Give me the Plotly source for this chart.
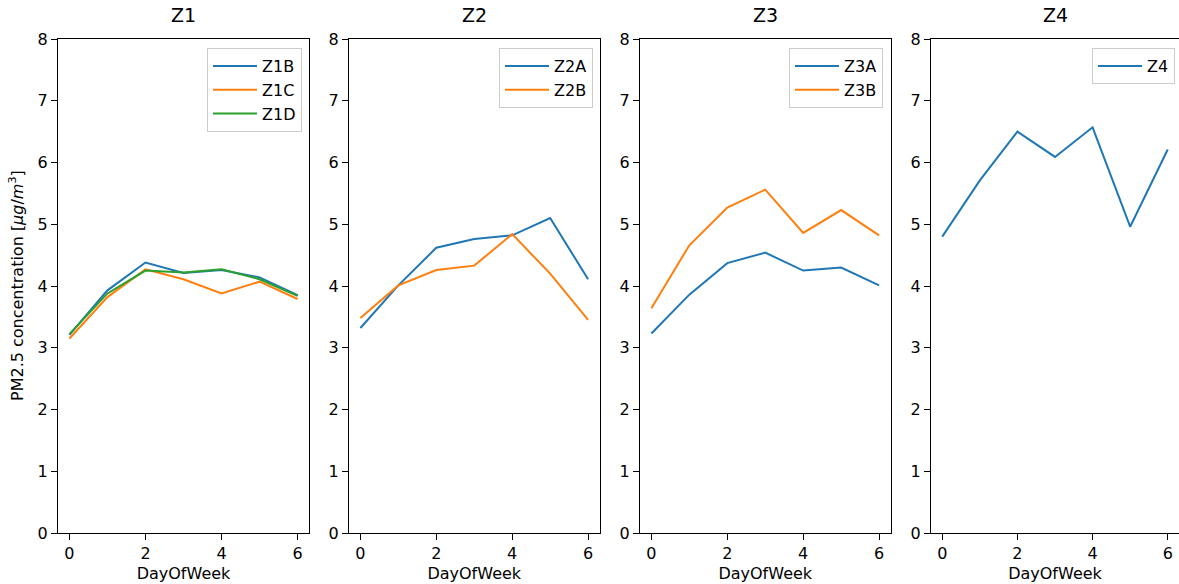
import plotly.graph_objects as go

days = [0, 1, 2, 3, 4, 5, 6]

Z1B = [3.21, 3.93, 4.38, 4.21, 4.26, 4.14, 3.85]
Z1C = [3.15, 3.82, 4.27, 4.11, 3.88, 4.07, 3.79]
Z1D = [3.22, 3.88, 4.25, 4.22, 4.27, 4.11, 3.84]

Z2A = [3.32, 4.01, 4.62, 4.76, 4.82, 5.10, 4.11]
Z2B = [3.48, 4.01, 4.26, 4.33, 4.84, 4.20, 3.45]

Z3A = [3.23, 3.86, 4.37, 4.54, 4.25, 4.30, 4.01]
Z3B = [3.64, 4.66, 5.27, 5.56, 4.86, 5.23, 4.82]

Z4 = [4.80, 5.71, 6.50, 6.09, 6.57, 4.96, 6.21]

panel_titles = ["Z1", "Z2", "Z3", "Z4"]
panels = [
    [("Z1B", Z1B), ("Z1C", Z1C), ("Z1D", Z1D)],
    [("Z2A", Z2A), ("Z2B", Z2B)],
    [("Z3A", Z3A), ("Z3B", Z3B)],
    [("Z4", Z4)],
]
x_ticks = [0, 2, 4, 6]
y_ticks = [0, 1, 2, 3, 4, 5, 6, 7, 8]

colors = ["#1f77b4", "#ff7f0e", "#2ca02c"]

W, H = 1179, 584
px_x = [(58, 309), (349, 599.5), (640, 890.5), (931, 1181)]
top_px, bot_px = 39, 533
ydom = [1 - bot_px / H, 1 - top_px / H]
legend_right = [302, 593, 883, 1175]

FONT = "DejaVu Sans"
fig = go.Figure()
layout = dict(
    width=W, height=H,
    margin=dict(l=0, r=0, t=0, b=0),
    paper_bgcolor="white", plot_bgcolor="white",
    font=dict(family=FONT, size=16, color="black"),
    showlegend=True,
    annotations=[],
)

for i, (series, title) in enumerate(zip(panels, panel_titles)):
    n = "" if i == 0 else str(i + 1)
    lg = "legend" if i == 0 else f"legend{i+1}"
    for j, (name, vals) in enumerate(series):
        fig.add_trace(go.Scatter(
            x=days, y=vals, mode="lines", name=name,
            line=dict(color=colors[j], width=2),
            xaxis="x" + n, yaxis="y" + n, legend=lg,
            legendgroup=f"{name}",
        ))
    x0, x1 = px_x[i]
    layout["xaxis" + n] = dict(
        domain=[x0 / W, min(x1 / W, 1.0)], anchor="y" + n,
        range=[-0.3, 6.3], tickvals=x_ticks, ticks="outside", ticklen=6,
        tickwidth=1.2, tickcolor="black", showline=True, linecolor="black",
        linewidth=1.2, mirror=True, showgrid=False, zeroline=False,
        tickfont=dict(size=16), automargin=False,
        title=dict(text="DayOfWeek", font=dict(size=16), standoff=5),
    )
    layout["yaxis" + n] = dict(
        domain=ydom, anchor="x" + n,
        range=[0, 8], tickvals=y_ticks, ticks="outside", ticklen=6,
        tickwidth=1.2, tickcolor="black", showline=True, linecolor="black",
        linewidth=1.2, mirror=True, showgrid=False, zeroline=False,
        tickfont=dict(size=16), automargin=False,
    )
    layout[lg] = dict(
        x=legend_right[i] / W, xanchor="right", y=1 - 48 / H, yanchor="top",
        bordercolor="#cccccc", borderwidth=1, bgcolor="rgba(255,255,255,0.8)",
        font=dict(size=16), tracegroupgap=0, itemwidth=44,
    )
    layout["annotations"].append(dict(
        text=title, xref="paper", yref="paper",
        x=(x0 + min(x1, W)) / 2 / W, y=1 - 15 / H, xanchor="center", yanchor="middle",
        showarrow=False, font=dict(size=19),
    ))

layout["annotations"].append(dict(
    text="PM2.5 concentration [<i>μg</i>/<i>m</i><sup>3</sup>]",
    xref="paper", yref="paper", x=16 / W, y=1 - 286 / H,
    xanchor="center", yanchor="middle", textangle=-90, showarrow=False,
    font=dict(size=16),
))

fig.update_layout(**layout)
fig.write_html("out.html")
